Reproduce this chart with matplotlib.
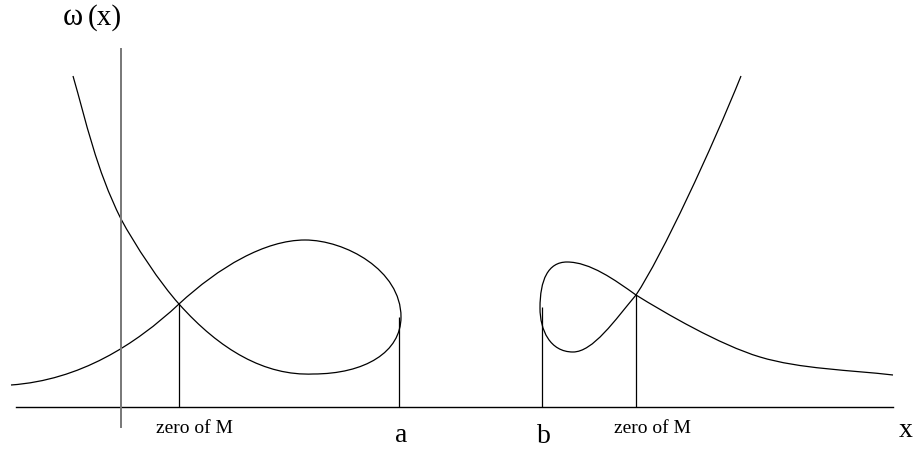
import matplotlib
matplotlib.use("Agg")
import matplotlib.pyplot as plt
from matplotlib.path import Path
from matplotlib.patches import PathPatch

# everything is in picture pixels (y grows downward)
# Bezier control points: start point, then 3 points per cubic segment
LEFT_RISE_X = [11, 80, 135, 179, 219, 265, 305, 345, 401, 401]
LEFT_RISE_Y = [385, 380, 345, 304, 267, 240, 240, 240, 270, 317]

LEFT_FALL_X = [73, 86, 96, 121, 135, 160, 179, 220, 265, 313, 365, 401, 401]
LEFT_FALL_Y = [76, 121, 169, 219, 245, 283, 304, 350, 376, 374, 374, 352, 317]

RIGHT_RISE_X = [540, 540, 550, 573, 593, 615, 636, 662, 712, 741]
RIGHT_RISE_Y = [308, 330, 352, 352, 352, 320, 295, 256, 148, 76]

RIGHT_FALL_X = [540, 540, 548, 567, 590, 615, 636, 665, 720, 760, 800, 850, 893]
RIGHT_FALL_Y = [308, 280, 262, 262, 262, 280, 295, 313, 345, 357, 369, 370, 375]

# vertical drop lines: zero of M (left), a, b, zero of M (right)
DROP_X = [179, 399, 542, 636]
DROP_TOP = [304, 317, 307, 295]

AXIS_Y = 407
AXIS_X_RANGE = [16, 893]
OMEGA_AXIS_X = 121
OMEGA_AXIS_RANGE = [49, 427]

SMALL_LABELS = ["zero of M", "zero of M"]
SMALL_LABEL_X = [194, 652]
BIG_LABELS = ["a", "b", "x"]
BIG_LABEL_X = [401, 544, 906]
BIG_LABEL_Y = [442, 443, 437]


def bezier_path(xs, ys):
    verts = list(zip(xs, ys))
    codes = [Path.MOVETO] + [Path.CURVE4] * (len(verts) - 1)
    return Path(verts, codes)


def main():
    plt.rcParams["font.family"] = ["Liberation Serif", "DejaVu Serif"]

    fig = plt.figure(figsize=(9.18, 4.53), dpi=100)
    ax = fig.add_axes([0, 0, 1, 1])
    ax.set_xlim(0, 918)
    ax.set_ylim(453, 0)
    ax.axis("off")

    # axes of the sketch
    ax.plot(AXIS_X_RANGE, [AXIS_Y, AXIS_Y], color="black", lw=1.0)
    ax.plot([OMEGA_AXIS_X, OMEGA_AXIS_X], OMEGA_AXIS_RANGE, color="#777777", lw=1.4)

    for xs, ys in [(LEFT_RISE_X, LEFT_RISE_Y), (LEFT_FALL_X, LEFT_FALL_Y),
                   (RIGHT_RISE_X, RIGHT_RISE_Y), (RIGHT_FALL_X, RIGHT_FALL_Y)]:
        ax.add_patch(PathPatch(bezier_path(xs, ys), facecolor="none",
                               edgecolor="black", lw=0.9))

    ax.vlines(DROP_X, DROP_TOP, AXIS_Y, color="black", lw=0.9)

    # omega label: symbol and "(x)" set a little apart, like the original
    ax.text(73, 25, "\u03c9", fontsize=22, ha="center", va="baseline")
    ax.text(88, 25, "(x)", fontsize=21, ha="left", va="baseline")
    for label, x in zip(SMALL_LABELS, SMALL_LABEL_X):
        ax.text(x, 433, label, fontsize=14, ha="center", va="baseline")
    for label, x, y in zip(BIG_LABELS, BIG_LABEL_X, BIG_LABEL_Y):
        ax.text(x, y, label, fontsize=20, ha="center", va="baseline")

    fig.savefig("out.png", dpi=100)
    plt.close(fig)


if __name__ == "__main__":
    main()
